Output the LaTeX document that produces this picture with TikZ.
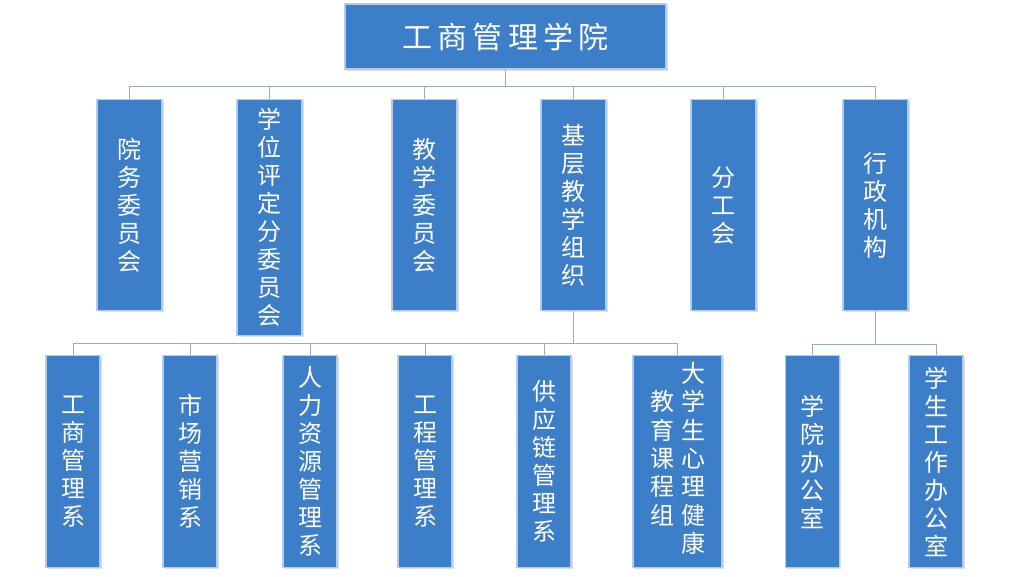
\documentclass[tikz,border=0pt]{standalone}
\usepackage{fontspec}
\newfontfamily\cjk{Noto Sans CJK SC}
\newfontfamily\cjktitle[LetterSpace=18]{Noto Sans CJK SC}
\usetikzlibrary{shadows}
\definecolor{boxblue}{RGB}{61,126,201}
\definecolor{boxedge}{RGB}{178,205,236}
\definecolor{linkgray}{RGB}{150,172,198}
\tikzset{
  unit/.style={draw=boxedge, line width=1.2pt, fill=boxblue, text=white,
    inner sep=0pt, align=center, font=\cjk\fontsize{24}{28}\selectfont,
    drop shadow={opacity=0.25, shadow xshift=1.5pt, shadow yshift=-1.5pt}},
  link/.style={draw=linkgray, line width=0.9pt},
}

\begin{document}
\begin{tikzpicture}[x=1pt,y=-1pt]
  \useasboundingbox[fill=white] (0,0) rectangle (1024,576);

  % top
  \node[unit, minimum width=321pt, minimum height=65pt,
    font=\cjktitle\fontsize{30}{34}\selectfont](top) at (505.5, 36.5) {工商管理学院};

  % second row
  \foreach \n/\x/\h/\txt in {1/129.5/211/{院\\务\\委\\员\\会},
      2/269.5/236/{学\\位\\评\\定\\分\\委\\员\\会},
      3/424.5/211/{教\\学\\委\\员\\会},
      4/573.5/211/{基\\层\\教\\学\\组\\织},
      5/723.5/211/{分\\工\\会},
      6/875.5/211/{行\\政\\机\\构}} {
    \node[unit, anchor=north, minimum width=65pt, minimum height=\h pt](b\n) at (\x, 99) {\txt};
  }

  % third row
  \foreach \n/\x/\w/\txt in {1/73/54/{工\\商\\管\\理\\系},
      2/190/54/{市\\场\\营\\销\\系},
      3/310/54/{人\\力\\资\\源\\管\\理\\系},
      4/425/54/{工\\程\\管\\理\\系},
      5/544/54/{供\\应\\链\\管\\理\\系},
      6/677.5/89/{\begin{tabular}{@{}c@{\hspace{7pt}}c@{}}
          \begin{tabular}{@{}c@{}}教\\育\\课\\程\\组\end{tabular} &
          \begin{tabular}{@{}c@{}}大\\学\\生\\心\\理\\健\\康\end{tabular}
        \end{tabular}},
      7/812.5/54/{学\\院\\办\\公\\室},
      8/936/54/{学\\生\\工\\作\\办\\公\\室}} {
    \node[unit, anchor=north, minimum width=\w pt, minimum height=212pt](c\n) at (\x, 355) {\txt};
  }

  % connectors
  \path (top.south) ++(0, 17) coordinate (bus1);
  \foreach \n in {1, ..., 6} {
    \draw[link] (top.south) -- (bus1) -| (b\n.north);
  }
  \path (b4.south) ++(0, 32) coordinate (bus2);
  \foreach \n in {1, ..., 6} {
    \draw[link] (b4.south) -- (bus2) -| (c\n.north);
  }
  \path (b6.south) ++(0, 33) coordinate (bus3);
  \foreach \n in {7, 8} {
    \draw[link] (b6.south) -- (bus3) -| (c\n.north);
  }
\end{tikzpicture}
\end{document}
